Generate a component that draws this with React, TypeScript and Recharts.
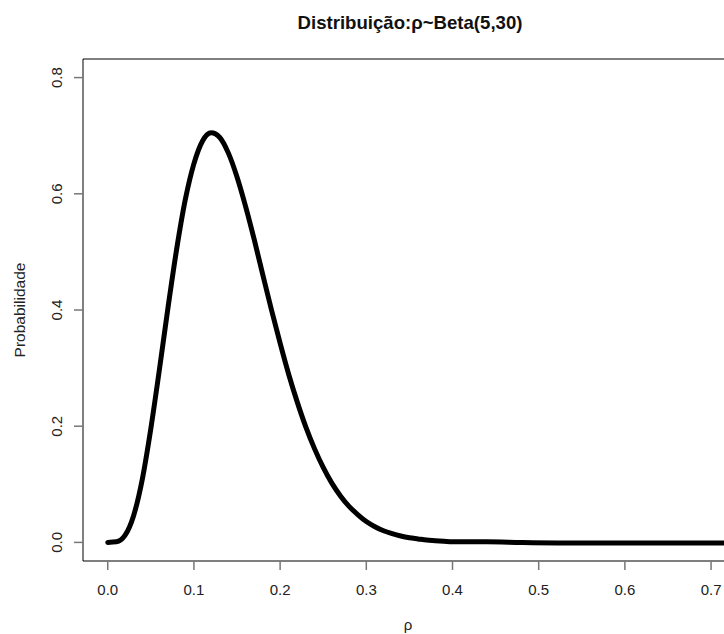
import React from 'react';
import { LineChart, Line, XAxis, YAxis, ReferenceLine } from 'recharts';

// valores
const rho = [
  0, 0.01, 0.02, 0.03, 0.04, 0.05, 0.06, 0.07, 0.08, 0.09,
  0.1, 0.11, 0.12, 0.13, 0.14, 0.15, 0.16, 0.17, 0.18, 0.19,
  0.2, 0.21, 0.22, 0.23, 0.24, 0.25, 0.26, 0.27, 0.28, 0.29,
  0.3, 0.31, 0.32, 0.33, 0.34, 0.35, 0.36, 0.37, 0.38, 0.39,
  0.4, 0.44, 0.48, 0.55, 0.6, 0.65, 0.7, 0.72,
];
const prob = [
  0.0, 0.001, 0.012, 0.046, 0.108, 0.196, 0.298, 0.405, 0.505, 0.59,
  0.652, 0.691, 0.705, 0.697, 0.67, 0.629, 0.578, 0.521, 0.46, 0.4,
  0.343, 0.289, 0.241, 0.198, 0.161, 0.129, 0.102, 0.08, 0.062, 0.048,
  0.036, 0.027, 0.02, 0.015, 0.011, 0.008, 0.006, 0.004, 0.003, 0.002,
  0.001, 0.001, 0.0, -0.001, -0.001, -0.001, -0.001, -0.001,
];
const xTicks = [0, 0.1, 0.2, 0.3, 0.4, 0.5, 0.6, 0.7];
const yTicks = [0, 0.2, 0.4, 0.6, 0.8];

const data = rho.map((r, i) => ({ r, p: prob[i] }));

const font = '"Liberation Sans", Arial, sans-serif';

const XTick = (props: any) => {
  const { x, payload } = props;
  return (
    <text x={x} y={595} textAnchor="middle" fontSize={15} fontFamily={font} fill="#222">
      {payload.value.toFixed(1)}
    </text>
  );
};

const YTick = (props: any) => {
  const { y, payload } = props;
  return (
    <text
      x={62}
      y={y}
      textAnchor="middle"
      fontSize={15}
      fontFamily={font}
      fill="#222"
      transform={`rotate(-90, 62, ${y})`}
    >
      {payload.value.toFixed(1)}
    </text>
  );
};

export default function App() {
  return (
    <div style={{ position: 'absolute', left: 0, top: 0, width: 724, height: 634, overflow: 'hidden', background: '#fff' }}>
      <LineChart width={724} height={634} data={data} margin={{ top: 59, right: 0, bottom: 0, left: 0 }}>
        <XAxis
          dataKey="r"
          type="number"
          domain={[-0.0287, 0.715]}
          allowDataOverflow
          ticks={xTicks}
          height={73}
          tickSize={9}
          tickLine={{ stroke: '#777', strokeWidth: 1.5 }}
          axisLine={{ stroke: '#555', strokeWidth: 1.5 }}
          tick={XTick}
          interval={0}
        />
        <YAxis
          type="number"
          domain={[-0.032, 0.832]}
          allowDataOverflow
          ticks={yTicks}
          width={83}
          tickSize={9}
          tickLine={{ stroke: '#777', strokeWidth: 1.5 }}
          axisLine={{ stroke: '#000', strokeWidth: 1 }}
          tick={YTick}
          interval={0}
        />
        <ReferenceLine y={0.832} stroke="#000" strokeWidth={1} />
        <Line
          type="monotone"
          dataKey="p"
          stroke="#000"
          strokeWidth={5}
          strokeLinecap="round"
          dot={false}
          isAnimationActive={false}
        />
        <text x={410} y={29} textAnchor="middle" fontSize={18.6} fontWeight="bold" fontFamily={font} fill="#111">
          Distribuição:ρ~Beta(5,30)
        </text>
        <text
          x={25}
          y={310}
          textAnchor="middle"
          fontSize={15.5}
          fontFamily={font}
          fill="#222"
          transform="rotate(-90, 25, 310)"
        >
          Probabilidade
        </text>
        <text x={408} y={630} textAnchor="middle" fontSize={15} fontFamily={font} fill="#222">
          ρ
        </text>
      </LineChart>
    </div>
  );
}
